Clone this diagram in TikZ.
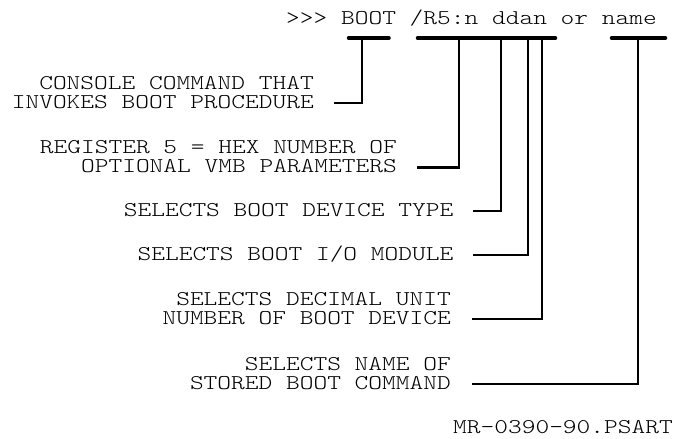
\documentclass[tikz,border=0pt]{standalone}
\usepackage{fontspec}
\setmonofont{lmmonolt10-regular.otf}[FakeStretch=1.245]
\newcommand\ttlbl{\ttfamily\fontsize{21}{24}\selectfont}
\tikzset{
  lbl/.style={font=\ttlbl, inner sep=0pt, anchor=base east},
  bar/.style={line width=3.5pt, line cap=round},
  conn/.style={line width=2.2pt}
}
\begin{document}
\begin{tikzpicture}[x=1pt,y=1pt]
\useasboundingbox (0,0) rectangle (675,-439);
% command line
\node[lbl] (cmd) at (657,-24.5) {>>> BOOT /R5:n ddan or name};
% bars
\coordinate (b1l) at (348.5,-38); \coordinate (b1r) at (389,-38);
\coordinate (b2l) at (417.5,-38); \coordinate (b2r) at (555.5,-38);
\coordinate (b3l) at (611.5,-38); \coordinate (b3r) at (665.5,-38);
\draw[bar] (b1l) -- (b1r);
\draw[bar] (b2l) -- (b2r);
\draw[bar] (b3l) -- (b3r);
% taps
\coordinate (p1) at (361.7,-38);
\coordinate (p2) at (459,-38);
\coordinate (p3) at (500.7,-38);
\coordinate (p4) at (528.3,-38);
\coordinate (p5) at (541.7,-38);
\coordinate (p6) at (638.3,-38);
% labels
\node[lbl] (t1a) at (314,-89.5) {CONSOLE COMMAND THAT};
\node[lbl] (t1b) at (314,-108.5) {INVOKES BOOT PROCEDURE};
\node[lbl] (t2a) at (397,-153.5) {REGISTER 5 = HEX NUMBER OF};
\node[lbl] (t2b) at (397,-172.5) {OPTIONAL VMB PARAMETERS};
\node[lbl] (t3) at (453.5,-216) {SELECTS BOOT DEVICE TYPE};
\node[lbl] (t4) at (453.5,-260) {SELECTS BOOT I/O MODULE};
\node[lbl] (t5a) at (451,-305) {SELECTS DECIMAL UNIT};
\node[lbl] (t5b) at (451,-324) {NUMBER OF BOOT DEVICE};
\node[lbl] (t6a) at (451,-370) {SELECTS NAME OF};
\node[lbl] (t6b) at (451,-389) {STORED BOOT COMMAND};
\node[lbl] (mr) at (673,-433) {MR-0390-90.PSART};
% connector ends
\coordinate (e1) at (334,-103);
\coordinate (e2) at (417,-167.5);
\coordinate (e3) at (473,-211);
\coordinate (e4) at (473,-255);
\coordinate (e5) at (472,-319);
\coordinate (e6) at (472,-384);
\draw[conn] (p1) |- (e1);
\draw[conn] (p2) |- (e2);
\draw[conn] (p3) |- (e3);
\draw[conn] (p4) |- (e4);
\draw[conn] (p5) |- (e5);
\draw[conn] (p6) |- (e6);
\end{tikzpicture}
\end{document}
